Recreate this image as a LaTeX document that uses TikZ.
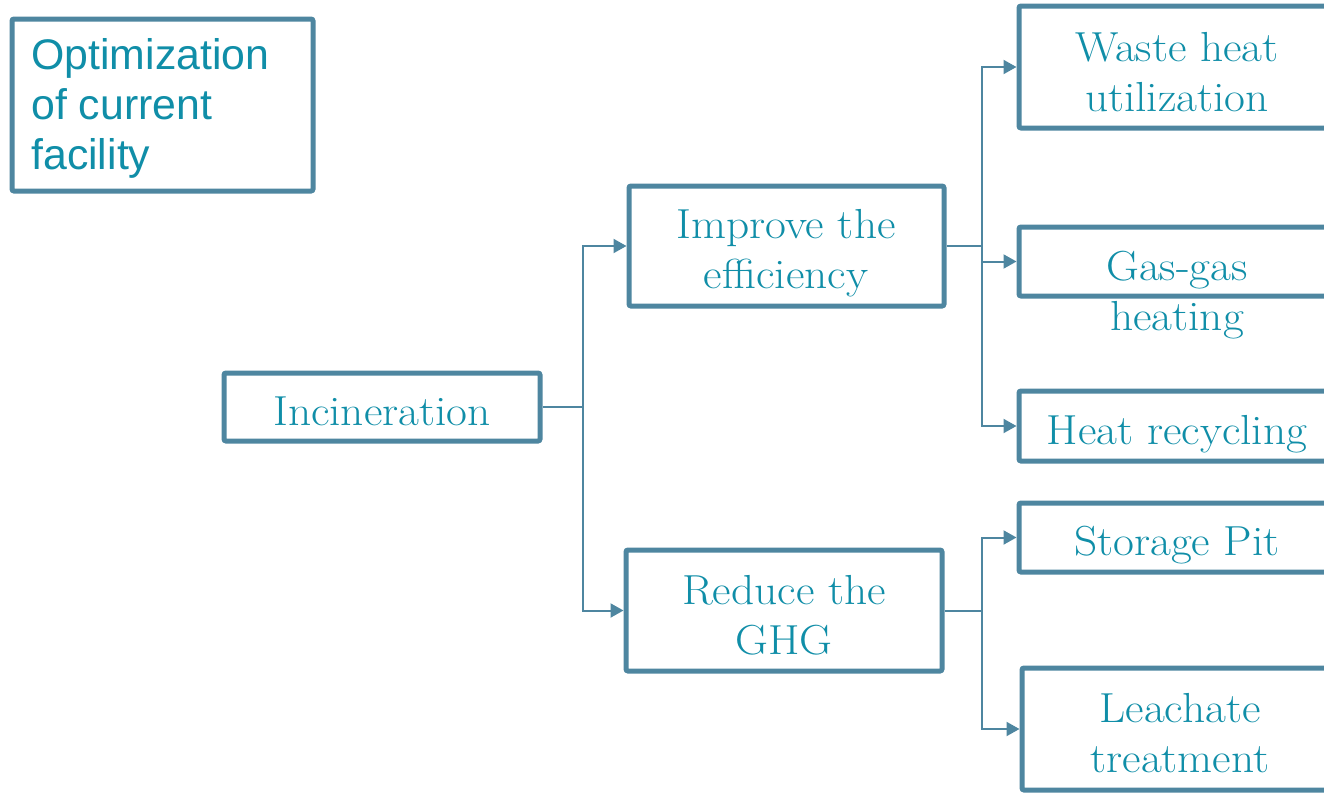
\documentclass[tikz,border=0pt]{standalone}
\usepackage{fontspec}
\newfontfamily\titlefont{Liberation Sans}
\newfontfamily\boxfont{Latin Modern Roman}[FakeStretch=1.08]
\usetikzlibrary{arrows.meta}
\definecolor{edgecol}{RGB}{78,134,160}
\definecolor{textcol}{RGB}{16,142,168}
\tikzset{
  box/.style 2 args={draw=edgecol, line width=2.5pt, rounded corners=1pt,
    fill=white, inner sep=0pt, minimum width=#1*0.5pt, minimum height=#2*0.5pt},
  txt/.style={text=textcol, inner sep=0pt, align=center,
    font=\boxfont\fontsize{21}{25}\selectfont},
  conn/.style={draw=edgecol, line width=1pt},
  arr/.style={conn, -{Triangle[length=6.5pt,width=7pt]}}
}
\begin{document}
\begin{tikzpicture}[x=0.5pt, y=-0.5pt]
\useasboundingbox (0,0) rectangle (1324,793);
\clip (0,0) rectangle (1324,793);

% heading box
\node[box={301}{172}] (title) at (162.5,105) {};
\node[text=textcol, inner sep=0pt, align=left, anchor=west,
  font=\titlefont\fontsize{21.4}{25}\selectfont] (titletxt) at (31,108.5)
  {Optimization\\of current\\facility};

% boxes
\node[box={316}{68}]  (incin)   at (382,407)    {};
\node[box={315}{120}] (improve) at (786.5,246)  {};
\node[box={316}{121}] (reduce)  at (784,610.5)  {};
\node[box={316}{122}] (waste)   at (1177,67)    {};
\node[box={316}{69}]  (gas)     at (1177,261.5) {};
\node[box={316}{70}]  (heat)    at (1177,426)   {};
\node[box={316}{69}]  (storage) at (1177,537.5) {};
\node[box={316}{122}] (leach)   at (1180,729)   {};

% labels
\node[txt] (incintxt)   at (382,411)  {Incineration};
\node[txt] (improvetxt) at (786,253)  {Improve the\\efficiency};
\node[txt] (reducetxt)  at (784,615)  {Reduce the\\GHG};
\node[txt] (wastetxt)   at (1177,72)  {Waste heat\\utilization};
\node[txt] (gastxt)     at (1177,295) {Gas-gas\\heating};
\node[txt] (heattxt)    at (1177,434) {Heat recycling};
\node[txt] (storagetxt) at (1177,545) {Storage Pit};
\node[txt] (leachtxt)   at (1180,733) {Leachate\\treatment};

% branch points
\coordinate (b1) at (583,407);
\coordinate (b2) at (982,246);
\coordinate (b3) at (982,610.5);

% connectors
\draw[conn] (incin.east) -- (b1);
\draw[arr] (b1) |- (improve.west);
\draw[arr] (b1) |- (reduce.west);

\draw[conn] (improve.east) -- (b2);
\draw[arr] (b2) |- (waste.west);
\draw[arr] (b2) |- (gas.west);
\draw[arr] (b2) |- (heat.west);

\draw[conn] (reduce.east) -- (b3);
\draw[arr] (b3) |- (storage.west);
\draw[arr] (b3) |- (leach.west);
\end{tikzpicture}
\end{document}
